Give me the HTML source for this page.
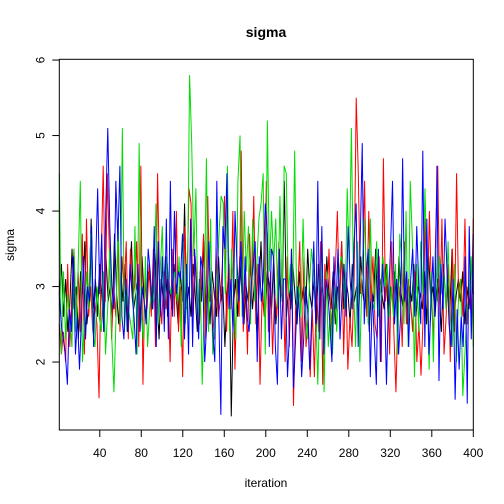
<!DOCTYPE html>
<html><head><meta charset="utf-8"><style>
html,body{margin:0;padding:0;background:#fff}
svg{display:block}
text{font-family:"Liberation Sans",Arial,sans-serif}
</style></head><body>
<svg id="chart" width="504" height="504">
<text x="266" y="37" text-anchor="middle" font-size="14" font-weight="bold">sigma</text>
<text x="266" y="487" text-anchor="middle" font-size="12">iteration</text>
<text transform="translate(14,245) rotate(-90)" text-anchor="middle" font-size="12">sigma</text>
<g id="plot"></g>
<rect x="59.3" y="59.3" width="414" height="370.7" fill="none" stroke="#000" stroke-width="1"/>
</svg>
<script>
const xTicks=[40,80,120,160,200,240,280,320,360,400];
const yTicks=[2,3,4,5,6];
const chainColors=["#000000","#ff0000","#00dd00","#0000ff"];
const chainBlack=[2.9,3.3,2.6,3.1,2.4,2.8,3.5,2.7,3.0,2.3,3.2,2.9,3.6,2.5,2.8,3.9,2.7,3.1,2.6,3.3,2.9,2.4,3.4,2.8,3.0,2.6,3.7,2.9,2.5,3.2,2.8,3.3,2.4,3.0,3.6,2.7,2.9,3.1,2.5,3.4,2.8,2.6,3.2,3.0,2.7,3.5,2.9,2.3,3.1,2.8,3.4,2.6,3.0,2.7,3.3,2.9,2.5,3.2,2.8,4.1,2.7,3.0,2.6,3.3,2.9,2.4,3.1,2.8,3.6,2.7,3.0,2.5,3.2,2.9,2.6,3.4,2.8,3.0,2.2,2.9,3.3,1.28,2.7,3.1,2.6,3.4,2.9,2.5,3.0,2.8,3.3,2.7,3.1,2.4,2.9,3.6,2.8,2.6,3.2,3.0,2.7,3.4,2.5,2.9,3.1,2.8,4.4,2.6,3.0,2.7,3.3,2.9,2.5,3.2,2.8,3.0,2.6,3.5,2.9,2.7,3.1,2.4,3.3,2.8,3.0,2.6,3.4,2.9,2.7,3.2,2.5,3.0,2.8,3.6,2.7,3.1,2.9,2.5,3.3,2.8,3.0,2.6,3.4,2.9,2.7,3.2,2.4,3.0,2.8,3.5,2.6,3.1,2.9,2.7,3.3,2.5,3.0,2.8,3.2,2.6,3.4,2.9,2.7,3.1,2.5,3.0,2.8,3.3,2.6,3.0,2.9,2.7,3.2,2.5,3.4,2.8,3.0,2.6,3.1,2.9,2.4,3.3,2.8,3.0,2.7,3.5,2.6,2.9,3.1,2.8,3.2,2.5,3.0,2.7,3.3,2.9];
const chainRed=[2.5,2.1,2.4,2.0,3.3,2.2,2.9,3.5,2.6,3.2,2.4,3.7,2.1,3.9,2.6,3.0,2.4,2.8,2.5,1.52,3.3,4.6,2.8,4.5,3.4,2.3,3.0,2.6,3.6,2.4,3.4,2.9,3.6,2.3,3.5,2.8,3.0,3.6,2.2,4.6,1.7,3.1,2.7,3.3,2.6,3.5,2.2,4.5,3.0,2.5,3.2,2.7,3.1,2.0,3.5,2.6,4.0,2.4,3.0,1.8,3.8,2.9,4.3,4.1,2.6,3.4,2.9,2.5,3.1,3.7,2.3,4.2,2.8,3.0,2.3,3.5,2.6,2.8,3.3,4.2,2.4,3.4,2.7,4.0,1.9,3.1,2.6,4.8,2.4,3.2,2.1,3.7,2.8,4.2,2.5,3.3,1.7,2.9,2.6,4.4,2.4,3.2,2.1,2.9,2.6,3.6,2.9,3.1,2.0,3.4,2.2,3.5,1.42,2.7,2.9,3.6,2.0,3.4,2.2,2.6,1.8,2.7,1.8,3.0,2.4,3.6,1.7,3.3,2.8,3.5,2.4,2.9,3.2,4.0,2.7,3.6,2.1,3.2,1.9,2.6,2.2,3.1,5.5,4.5,2.9,3.2,4.4,2.6,4.0,2.8,3.4,2.5,2.3,3.4,2.0,4.7,2.8,3.2,2.1,3.6,2.4,1.6,2.7,3.0,2.2,3.6,2.5,3.1,2.8,2.4,3.2,2.0,2.5,1.82,2.6,3.9,2.7,4.0,2.9,2.3,3.7,4.6,2.6,3.9,2.1,2.6,3.3,2.0,3.5,2.4,4.5,2.8,3.1,2.6,3.9,2.5,3.0,2.6,3.9];
const chainGreen=[4.5,2.1,3.2,2.3,2.9,2.6,2.2,3.5,2.4,3.3,4.4,2.0,2.6,3.2,2.7,3.7,2.4,2.2,3.0,2.6,2.4,3.2,2.1,2.7,3.5,2.3,1.6,2.6,3.9,2.5,5.1,2.4,3.0,2.7,2.5,2.3,3.8,2.1,4.9,2.6,2.3,3.4,2.2,2.7,3.0,2.8,4.1,2.5,3.2,3.8,2.6,3.4,3.1,2.9,3.1,3.2,2.8,3.4,2.2,3.6,2.5,3.0,5.8,4.9,3.4,4.3,2.5,3.2,1.7,2.8,4.7,2.4,3.9,2.1,2.6,3.0,3.7,4.2,4.1,2.9,4.6,2.4,3.5,2.8,2.3,4.4,5.0,2.6,4.0,3.2,3.8,2.5,3.9,2.8,3.3,3.9,4.1,4.5,2.1,5.2,3.2,4.0,3.3,3.9,2.7,4.2,2.8,4.6,4.5,2.9,3.3,2.8,4.8,2.7,3.0,2.6,3.9,2.8,2.3,3.0,3.5,3.2,2.7,1.7,3.0,3.6,1.6,3.2,2.2,2.7,2.1,3.0,2.4,3.1,3.4,3.3,2.7,4.3,3.3,5.1,3.0,2.2,3.6,2.0,3.1,3.9,3.3,2.5,3.9,2.8,2.7,3.6,2.6,3.0,3.4,3.0,3.3,2.6,3.0,2.6,3.3,2.1,3.7,3.3,2.5,4.0,2.2,4.4,3.6,1.8,3.3,2.4,3.6,2.9,4.3,3.1,1.9,3.2,2.0,3.5,2.8,3.4,2.9,3.2,2.7,3.6,2.6,2.2,3.3,2.0,2.9,3.1,1.55,2.1,2.7,2.9,3.4,2.2];
const chainBlue=[2.9,2.5,2.3,2.1,1.7,2.7,2.4,3.4,2.1,2.6,1.9,2.6,3.4,2.3,3.0,2.8,3.8,2.2,3.3,4.3,2.9,3.7,2.4,4.0,5.1,3.8,3.0,2.7,4.4,3.6,4.6,2.6,2.3,3.1,2.4,3.3,2.9,2.6,2.1,3.3,2.4,3.0,2.8,2.5,3.5,3.2,2.7,3.8,2.2,3.6,2.6,3.4,2.4,3.9,2.3,4.4,2.6,4.0,2.9,3.2,3.1,3.7,2.3,3.3,2.1,3.9,2.2,3.5,2.9,2.3,3.4,3.2,2.0,2.5,3.6,2.9,2.4,2.0,4.4,2.6,1.3,3.8,3.5,4.5,2.7,3.1,2.4,4.0,3.3,2.8,3.6,2.5,3.4,2.6,2.4,3.0,3.3,3.6,2.0,3.4,2.8,3.1,4.1,3.7,2.2,3.5,3.4,2.2,1.7,3.5,2.3,3.1,3.1,1.8,2.4,3.5,1.65,2.3,3.0,2.6,1.8,2.3,3.0,2.7,1.9,2.6,3.6,2.5,4.4,2.3,3.8,2.1,3.1,2.9,2.5,2.0,3.4,2.7,3.5,2.3,2.9,3.3,2.6,3.8,3.1,2.7,3.6,4.1,2.2,3.6,4.9,2.5,3.2,3.5,1.8,2.9,2.3,1.7,3.5,2.0,3.3,2.9,1.7,2.8,3.5,4.4,2.5,3.1,2.1,2.6,4.7,2.8,3.2,2.2,3.1,3.5,2.6,3.8,3.0,2.5,4.8,2.2,3.9,2.1,2.7,3.4,2.6,4.6,1.75,3.3,2.7,3.9,3.2,2.5,2.2,3.1,1.5,2.7,1.9,2.6,2.2,3.4,1.45,3.8,2.3,3.7];
const chains=[chainBlack,chainRed,chainGreen,chainBlue];
const L=59.3,R=473.3,T=59.3,B=430;
const xMin=1,xMax=400,yMin=1.1,yMax=6.01;
function sx(v){return L+(v-xMin)/(xMax-xMin)*(R-L);}
function sy(v){return B-(v-yMin)/(yMax-yMin)*(B-T);}
const NS="http://www.w3.org/2000/svg";
const plot=document.getElementById('plot');
const svg=document.getElementById('chart');
chains.forEach((arr,c)=>{
  const n=arr.length;
  const pts=arr.map((v,i)=>sx(xMin+i*(xMax-xMin)/(n-1)).toFixed(2)+","+sy(v).toFixed(2)).join(" ");
  const pl=document.createElementNS(NS,'polyline');
  pl.setAttribute('points',pts);
  pl.setAttribute('fill','none');
  pl.setAttribute('stroke',chainColors[c]);
  pl.setAttribute('stroke-width','1');
  
  
  plot.appendChild(pl);
});
xTicks.forEach(t=>{
  const x=sx(t);
  const ln=document.createElementNS(NS,'line');
  ln.setAttribute('x1',x);ln.setAttribute('x2',x);ln.setAttribute('y1',B);ln.setAttribute('y2',B+7);
  ln.setAttribute('stroke','#000');
  
  
  svg.appendChild(ln);
  const tx=document.createElementNS(NS,'text');
  tx.setAttribute('x',x);tx.setAttribute('y',B+27);tx.setAttribute('text-anchor','middle');tx.setAttribute('font-size','12');
  tx.textContent=t;
  
  
  svg.appendChild(tx);
});
yTicks.forEach(t=>{
  const y=sy(t);
  const ln=document.createElementNS(NS,'line');
  ln.setAttribute('x1',L-7);ln.setAttribute('x2',L);ln.setAttribute('y1',y);ln.setAttribute('y2',y);
  ln.setAttribute('stroke','#000');
  
  
  svg.appendChild(ln);
  const tx=document.createElementNS(NS,'text');
  tx.setAttribute('transform','translate('+(L-15)+','+y+') rotate(-90)');
  tx.setAttribute('text-anchor','middle');tx.setAttribute('font-size','12');
  tx.textContent=t;
  
  
  svg.appendChild(tx);
});
</script>
</body></html>
